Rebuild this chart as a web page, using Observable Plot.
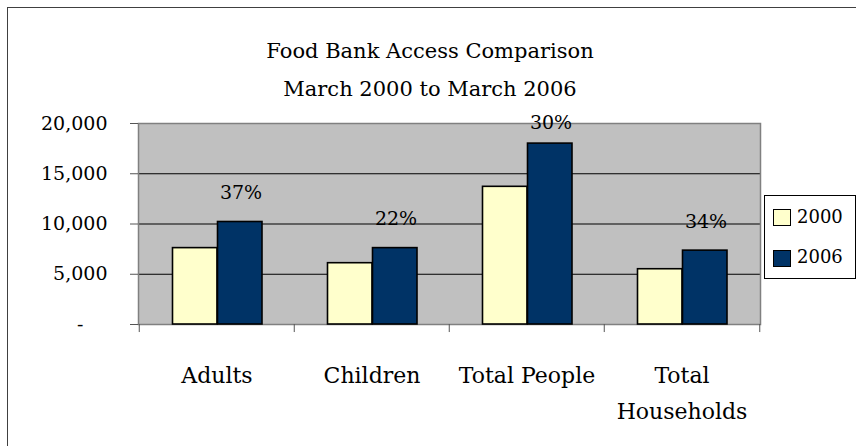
<!DOCTYPE html>
<html>
<head>
<meta charset="utf-8">
<script src="https://cdn.jsdelivr.net/npm/d3@7"></script>
<script src="https://cdn.jsdelivr.net/npm/@observablehq/plot@0.6"></script>
<style>
  html, body { margin: 0; padding: 0; background: #fff; }
  #wrap { position: relative; width: 856px; height: 446px; overflow: hidden; font-family: "DejaVu Serif", serif; color: #000; }
  #border { position: absolute; left: 7px; top: 7px; width: 1000px; height: 1000px; border: 1.5px solid #404040; box-sizing: border-box; }
  #head { position: absolute; left: 0; top: 32px; width: 860px; text-align: center; font-size: 21px; line-height: 38px; }
  #chart { position: absolute; left: 0; top: 110px; }
  #legend { position: absolute; left: 764px; top: 195px; width: 92px; height: 84px; border: 1px solid #000; background: #fff; box-sizing: border-box; }
  .sw { position: absolute; width: 18px; height: 17px; border: 1.5px solid #000; box-sizing: border-box; }
  .lt { position: absolute; font-size: 18px; line-height: 20px; font-family: "DejaVu Serif", serif; }
</style>
</head>
<body>
<div id="wrap">
  <div id="border"></div>
  <div id="head"><div id="t1"></div><div id="t2"></div></div>
  <div id="chart"></div>
  <div id="legend"></div>
</div>
<script>
// ---- data ----
const title = "Food Bank Access Comparison";
const subtitle = "March 2000 to March 2006";
const categories = ["Adults", "Children", "Total People", "Total Households"];
const categoryLabels = ["Adults", "Children", "Total People", "Total\nHouseholds"];
const series = ["2000", "2006"];
const values2000 = [7600, 6100, 13700, 5500];
const values2006 = [10200, 7600, 18000, 7350];
const changeLabels = ["37%", "22%", "30%", "34%"];
const yTicks = [0, 5000, 10000, 15000, 20000];
const colors = ["#FFFFCC", "#003366"];

document.getElementById("t1").textContent = title;
document.getElementById("t2").textContent = subtitle;

const rows2000 = categories.map((c, i) => ({c, v: values2000[i]}));
const rows2006 = categories.map((c, i) => ({c, v: values2006[i], p: changeLabels[i]}));
const labelOf = new Map(categories.map((c, i) => [c, categoryLabels[i]]));
const fmt = d3.format(",");

const chart = Plot.plot({
  width: 856,
  height: 336,
  marginTop: 13,
  marginBottom: 122,
  marginLeft: 138,
  marginRight: 96,
  style: {fontFamily: "DejaVu Serif", fontSize: "19px", background: "transparent", overflow: "visible", color: "#000"},
  x: {domain: categories, padding: 0, axis: null},
  y: {domain: [0, 20000], axis: null},
  marks: [
    Plot.frame({fill: "#C0C0C0", stroke: null}),
    Plot.gridY(yTicks.slice(1, -1), {stroke: "#000", strokeOpacity: 1, strokeWidth: 1}),
    Plot.frame({stroke: "#808080", strokeWidth: 1.5}),
    Plot.axisY(yTicks, {
      label: null,
      tickSize: 8, tickPadding: 23, stroke: "#555", fill: "#000", fontSize: 19,
      tickFormat: d => d === 0 ? "-\u2007\u2007" : fmt(d)
    }),
    Plot.ruleX(categories, {x: d => d, dx: -77.75, y1: 0, y2: -800, stroke: "#555"}),
    Plot.ruleX(categories.slice(-1), {x: d => d, dx: 77.75, y1: 0, y2: -800, stroke: "#555"}),
    Plot.barY(rows2000, {x: "c", y: "v", fill: colors[0], stroke: "#000", strokeWidth: 1.6, insetLeft: 33.5, insetRight: 77}),
    Plot.barY(rows2006, {x: "c", y: "v", fill: colors[1], stroke: "#000", strokeWidth: 1.6, insetLeft: 78.5, insetRight: 32}),
    Plot.text(rows2006.filter(d => d.v < 17000), {x: "c", y: "v", text: "p", dx: 24, dy: -29, fontSize: 19, fill: "#000"}),
    Plot.text(rows2006.filter(d => d.v >= 17000), {x: "c", y: "v", text: "p", dx: 24, dy: -21, fontSize: 19, fill: "#000"}),
    Plot.text(categories, {x: d => d, text: d => labelOf.get(d), frameAnchor: "bottom", lineAnchor: "top", dy: 34, fontSize: 22, lineHeight: 1.6, fill: "#000"})
  ]
});
document.getElementById("chart").appendChild(chart);

// legend
const legend = document.getElementById("legend");
series.forEach((s, i) => {
  const sw = document.createElement("div");
  sw.className = "sw";
  sw.style.left = "8px";
  sw.style.top = (13 + i * 41) + "px";
  sw.style.background = colors[i];
  legend.appendChild(sw);
  const t = document.createElement("div");
  t.className = "lt";
  t.style.left = "32px";
  t.style.top = (11 + i * 40) + "px";
  t.textContent = s;
  legend.appendChild(t);
});
</script>
</body>
</html>
